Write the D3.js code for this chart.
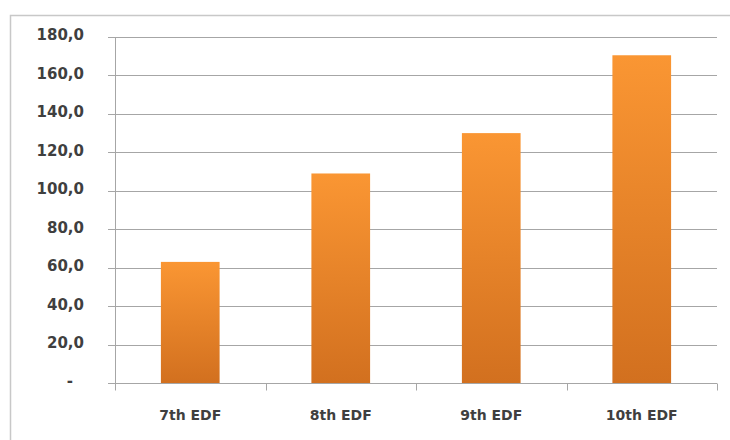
<!DOCTYPE html>
<html>
<head>
<meta charset="utf-8">
<script src="https://cdn.jsdelivr.net/npm/d3@7"></script>
<style>
  html, body { margin: 0; padding: 0; background: #fff; }
  svg { display: block; }
  text { font-family: "DejaVu Sans", Verdana, sans-serif; font-weight: bold; fill: #3f3f3f; }
</style>
</head>
<body>
<svg id="chart" width="730" height="440"></svg>
<script>
// Category names and bar values
const categories = ["7th EDF", "8th EDF", "9th EDF", "10th EDF"];
const values = [63.0, 109.0, 130.0, 170.5];
// Value-axis ticks and their printed labels
const tickValues = [0, 20, 40, 60, 80, 100, 120, 140, 160, 180];
const tickLabels = ["-", "20,0", "40,0", "60,0", "80,0", "100,0", "120,0", "140,0", "160,0", "180,0"];

const svg = d3.select("#chart");
const plot = { left: 115, right: 717, top: 37, bottom: 383 };

// Chart frame (runs off the right and bottom edges of the view)
svg.append("rect")
  .attr("x", 10.5).attr("y", 15.5)
  .attr("width", 740).attr("height", 460)
  .attr("fill", "#fff")
  .attr("stroke", "#c8c8c8").attr("stroke-width", 1.5);

const x = d3.scaleBand()
  .domain(categories)
  .range([plot.left, plot.right])
  .paddingInner(0.61)
  .paddingOuter(0.305);

const y = d3.scaleLinear()
  .domain([0, 180])
  .range([plot.bottom, plot.top]);

// Bar fill gradient
const defs = svg.append("defs");
const grad = defs.append("linearGradient")
  .attr("id", "barFill")
  .attr("x1", 0).attr("y1", 0).attr("x2", 0).attr("y2", 1);
grad.append("stop").attr("offset", "0%").attr("stop-color", "#fa9633");
grad.append("stop").attr("offset", "100%").attr("stop-color", "#d2701f");

// Horizontal gridlines with short left tick stubs
svg.append("g")
  .selectAll("line")
  .data(tickValues)
  .join("line")
  .attr("x1", plot.left - 7)
  .attr("x2", plot.right)
  .attr("y1", d => Math.round(y(d)) + 0.5)
  .attr("y2", d => Math.round(y(d)) + 0.5)
  .attr("stroke", "#a6a6a6")
  .attr("stroke-width", 1);

// Value axis line
svg.append("line")
  .attr("x1", plot.left + 0.5).attr("x2", plot.left + 0.5)
  .attr("y1", y(180)).attr("y2", y(0))
  .attr("stroke", "#a6a6a6");

// Value-axis labels
svg.append("g")
  .selectAll("text")
  .data(tickValues)
  .join("text")
  .attr("x", (d, i) => tickLabels[i] === "-" ? 73 : 84)
  .attr("y", d => y(d) - 2)
  .attr("dy", "0.36em")
  .attr("text-anchor", "end")
  .attr("font-size", 15)
  .text((d, i) => tickLabels[i]);

// Bars
svg.append("g")
  .selectAll("rect")
  .data(values)
  .join("rect")
  .attr("x", (d, i) => x(categories[i]))
  .attr("y", d => y(d))
  .attr("width", x.bandwidth())
  .attr("height", d => y(0) - y(d))
  .attr("fill", "url(#barFill)");

// Category axis along the baseline
const xAxis = svg.append("g")
  .attr("transform", `translate(0,${Math.round(y(0)) + 0.5})`);
xAxis.append("line")
  .attr("x1", plot.left).attr("x2", plot.right)
  .attr("stroke", "#a6a6a6");
const bounds = categories.map(c => x(c) - x.step() * x.paddingInner() / 2).concat([plot.right]);
bounds[0] = plot.left;
xAxis.selectAll("line.tick")
  .data(bounds)
  .join("line")
  .attr("class", "tick")
  .attr("x1", d => Math.round(d) + 0.5).attr("x2", d => Math.round(d) + 0.5)
  .attr("y1", 0).attr("y2", 7)
  .attr("stroke", "#a6a6a6");
xAxis.selectAll("text")
  .data(categories)
  .join("text")
  .attr("x", d => x(d) + x.bandwidth() / 2)
  .attr("y", 36)
  .attr("text-anchor", "middle")
  .attr("font-size", 14)
  .text(d => d);
</script>
</body>
</html>
